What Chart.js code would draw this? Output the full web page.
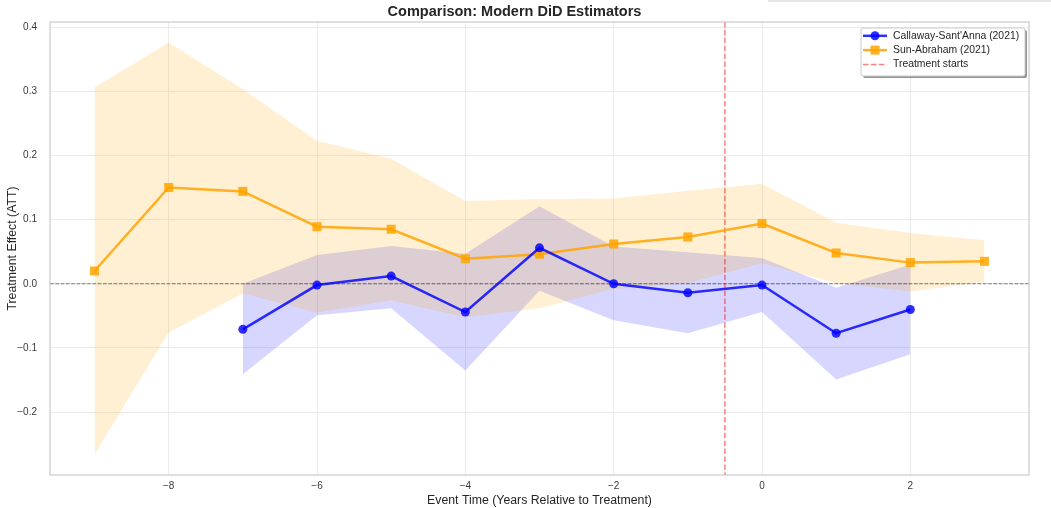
<!DOCTYPE html>
<html>
<head>
<meta charset="utf-8">
<title>Comparison: Modern DiD Estimators</title>
<script src="https://cdn.jsdelivr.net/npm/chart.js@4.4.1/dist/chart.umd.min.js"></script>
<style>
  html, body { margin: 0; padding: 0; background: #ffffff; }
  #wrap { position: relative; width: 1051px; height: 508px; overflow: hidden; }
  canvas { display: block; }
  #strip { position: absolute; left: 768px; top: 0; width: 283px; height: 2px; background: #e6e6e6; }
</style>
</head>
<body>
<div id="wrap">
  <canvas id="chart" width="1051" height="508"></canvas>
  <div id="strip"></div>
</div>
<script>
// Event-study estimates (ATT by years relative to treatment) with 95% bands
const eventTimeCS = [-7, -6, -5, -4, -3, -2, -1, 0, 1, 2];
const attCS       = [-0.071, -0.002, 0.012, -0.044, 0.056, 0.000, -0.014, -0.002, -0.077, -0.040];
const upperCS     = [0.000, 0.045, 0.059, 0.047, 0.121, 0.058, 0.049, 0.040, -0.006, 0.030];
const lowerCS     = [-0.141, -0.049, -0.038, -0.135, -0.011, -0.057, -0.077, -0.044, -0.149, -0.110];

const eventTimeSA = [-9, -8, -7, -6, -5, -4, -3, -2, -1, 0, 1, 2, 3];
const attSA       = [0.020, 0.150, 0.144, 0.089, 0.085, 0.039, 0.046, 0.062, 0.073, 0.094, 0.048, 0.033, 0.035];
const upperSA     = [0.306, 0.376, 0.303, 0.223, 0.195, 0.129, 0.132, 0.133, 0.145, 0.156, 0.095, 0.079, 0.068];
const lowerSA     = [-0.266, -0.076, -0.015, -0.045, -0.026, -0.052, -0.038, -0.008, 0.001, 0.032, 0.001, -0.012, 0.003];

const xTickValues = [-8, -6, -4, -2, 0, 2];
const yTickValues = [-0.2, -0.1, 0.0, 0.1, 0.2, 0.3, 0.4];
const treatmentStart = -0.5;
const seriesLabels = ["Callaway-Sant'Anna (2021)", "Sun-Abraham (2021)", "Treatment starts"];

const FONT = "'Liberation Sans', Arial, Helvetica, sans-serif";
const BLUE = 'rgba(0, 0, 255, 0.82)';
const ORANGE = 'rgba(255, 165, 0, 0.85)';
const BLUE_BAND = 'rgba(0, 0, 255, 0.16)';
const ORANGE_BAND = 'rgba(255, 165, 0, 0.17)';
const RED_DASH = 'rgba(255, 0, 0, 0.5)';

const pts = (xs, ys) => xs.map((x, i) => ({ x: x, y: ys[i] }));
const minus = s => s.replace('-', '\u2212');

// Zero line and treatment-start marker, drawn above the bands
const refLines = {
  id: 'refLines',
  beforeDatasetsDraw(chart) {
    const { ctx, chartArea: a, scales } = chart;
    ctx.save();
    ctx.beginPath();
    ctx.rect(a.left, a.top, a.right - a.left, a.bottom - a.top);
    ctx.clip();
    const y0 = scales.y.getPixelForValue(0);
    ctx.strokeStyle = 'rgba(0, 0, 0, 0.5)';
    ctx.lineWidth = 1;
    ctx.setLineDash([3.7, 1.6]);
    ctx.beginPath();
    ctx.moveTo(a.left, y0);
    ctx.lineTo(a.right, y0);
    ctx.stroke();
    const xv = scales.x.getPixelForValue(treatmentStart);
    ctx.strokeStyle = RED_DASH;
    ctx.lineWidth = 1.5;
    ctx.setLineDash([5.5, 2.4]);
    ctx.beginPath();
    ctx.moveTo(xv, a.top);
    ctx.lineTo(xv, a.bottom);
    ctx.stroke();
    ctx.restore();
  }
};

// Light frame around the plotting area
const frame = {
  id: 'frame',
  afterDatasetsDraw(chart) {
    const { ctx, chartArea: a } = chart;
    ctx.save();
    ctx.strokeStyle = '#cccccc';
    ctx.lineWidth = 1.25;
    ctx.strokeRect(a.left, a.top, a.right - a.left, a.bottom - a.top);
    ctx.restore();
  }
};

// Legend box in the upper-right corner of the plot
const cornerLegend = {
  id: 'cornerLegend',
  afterDraw(chart) {
    const { ctx, chartArea: a } = chart;
    const w = 164, h = 48;
    const x = a.right - 4 - w, y = a.top + 6;
    ctx.save();
    ctx.fillStyle = 'rgba(0, 0, 0, 0.42)';
    ctx.beginPath();
    ctx.roundRect(x + 2, y + 2, w, h, 2);
    ctx.fill();
    ctx.fillStyle = '#ffffff';
    ctx.strokeStyle = '#cccccc';
    ctx.lineWidth = 1;
    ctx.beginPath();
    ctx.roundRect(x, y, w, h, 2);
    ctx.fill();
    ctx.stroke();

    const rowY = i => y + 7.8 + i * 14.3;
    const hx0 = x + 2, hx1 = x + 26, hm = x + 14;
    ctx.font = '10.4px ' + FONT;
    ctx.textBaseline = 'middle';
    ctx.textAlign = 'left';

    // estimator 1
    ctx.strokeStyle = BLUE; ctx.lineWidth = 2.5;
    ctx.beginPath(); ctx.moveTo(hx0, rowY(0)); ctx.lineTo(hx1, rowY(0)); ctx.stroke();
    ctx.fillStyle = BLUE;
    ctx.beginPath(); ctx.arc(hm, rowY(0), 4.5, 0, Math.PI * 2); ctx.fill();
    // estimator 2
    ctx.strokeStyle = ORANGE;
    ctx.beginPath(); ctx.moveTo(hx0, rowY(1)); ctx.lineTo(hx1, rowY(1)); ctx.stroke();
    ctx.fillStyle = ORANGE;
    ctx.fillRect(hm - 4.5, rowY(1) - 4.5, 9, 9);
    // treatment start
    ctx.strokeStyle = RED_DASH; ctx.lineWidth = 1.5;
    ctx.setLineDash([5.5, 2.4]);
    ctx.beginPath(); ctx.moveTo(hx0, rowY(2)); ctx.lineTo(hx1, rowY(2)); ctx.stroke();
    ctx.setLineDash([]);

    ctx.fillStyle = '#262626';
    seriesLabels.forEach((t, i) => ctx.fillText(t, x + 32, rowY(i)));
    ctx.restore();
  }
};

const bandStyle = { borderWidth: 0, borderColor: 'rgba(0,0,0,0)', pointRadius: 0, tension: 0 };

new Chart(document.getElementById('chart'), {
  type: 'line',
  data: {
    datasets: [
      { label: seriesLabels[0], data: pts(eventTimeCS, attCS), borderColor: BLUE, backgroundColor: BLUE,
        borderWidth: 2.5, pointStyle: 'circle', pointRadius: 4.5, pointBorderWidth: 0, fill: false, order: 0 },
      { label: seriesLabels[1], data: pts(eventTimeSA, attSA), borderColor: ORANGE, backgroundColor: ORANGE,
        borderWidth: 2.5, pointStyle: 'rect', pointRadius: 6.4, pointBorderWidth: 0, fill: false, order: 1 },
      Object.assign({ label: 'SA upper', data: pts(eventTimeSA, upperSA), backgroundColor: ORANGE_BAND, fill: 3, order: 2 }, bandStyle),
      Object.assign({ label: 'SA lower', data: pts(eventTimeSA, lowerSA), fill: false, order: 2 }, bandStyle),
      Object.assign({ label: 'CS upper', data: pts(eventTimeCS, upperCS), backgroundColor: BLUE_BAND, fill: 5, order: 3 }, bandStyle),
      Object.assign({ label: 'CS lower', data: pts(eventTimeCS, lowerCS), fill: false, order: 3 }, bandStyle)
    ]
  },
  options: {
    responsive: false,
    animation: false,
    devicePixelRatio: 1,
    layout: { padding: { left: 0, right: 22, top: 0, bottom: 0 } },
    plugins: {
      legend: { display: false },
      tooltip: { enabled: false },
      filler: { drawTime: 'beforeDatasetsDraw' },
      title: {
        display: true,
        text: 'Comparison: Modern DiD Estimators',
        color: '#262626',
        font: { family: FONT, size: 14.5, weight: 'bold', lineHeight: 1.2 },
        padding: { top: 3.5, bottom: 1.1 }
      }
    },
    scales: {
      x: {
        type: 'linear',
        min: -9.6,
        max: 3.6,
        afterBuildTicks: s => { s.ticks = xTickValues.map(v => ({ value: v })); },
        afterFit: s => { s.height = 33; },
        grid: { color: '#ebebeb', lineWidth: 1, drawTicks: false },
        border: { display: false },
        ticks: { color: '#3a3a3a', padding: 5, font: { family: FONT, size: 10 },
                 callback: v => minus(String(v)) },
        title: { display: true, text: 'Event Time (Years Relative to Treatment)', color: '#262626',
                 font: { family: FONT, size: 12.3, lineHeight: 1.2 }, padding: { top: 0, bottom: 0.4 } }
      },
      y: {
        type: 'linear',
        min: -0.298,
        max: 0.408,
        afterBuildTicks: s => { s.ticks = yTickValues.map(v => ({ value: v })); },
        afterFit: s => { s.width = 50; },
        grid: { color: '#ebebeb', lineWidth: 1, drawTicks: false },
        border: { display: false },
        ticks: { color: '#3a3a3a', padding: 13, font: { family: FONT, size: 10 },
                 callback: v => minus((Math.abs(v) < 1e-9 ? 0 : v).toFixed(1)) },
        title: { display: true, text: 'Treatment Effect (ATT)', color: '#262626',
                 font: { family: FONT, size: 12.3, lineHeight: 1.2 }, padding: { top: 4.8, bottom: 0 } }
      }
    }
  },
  plugins: [refLines, frame, cornerLegend]
});
</script>
</body>
</html>
